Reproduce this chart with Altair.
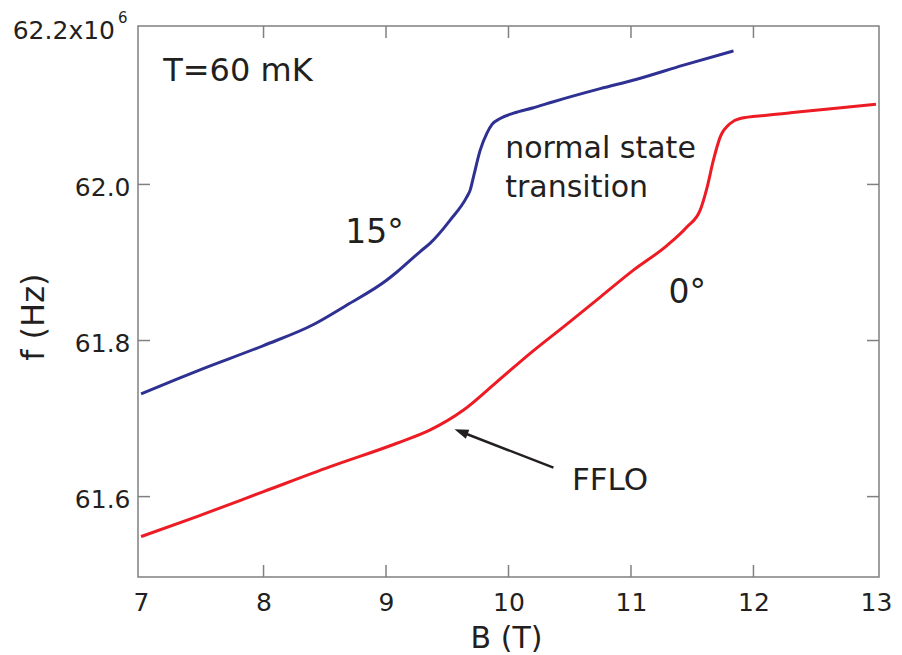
import altair as alt
import pandas as pd

FONT = "DejaVu Sans"
INK = "#231F20"
FRAME = "#808080"
BLUE = "#2E3192"
RED = "#ED1C24"

# axis tick positions
X_TICKS = [7, 8, 9, 10, 11, 12, 13]
Y_TICKS = [61.6, 61.8, 62.0]

# resonance frequency vs field, 15 degree orientation
B_15 = [7.0, 7.238, 7.456, 8.0, 8.408, 8.681, 9.007, 9.089, 9.279, 9.361,
        9.524, 9.660, 9.687, 9.714, 9.769, 9.824, 9.867, 9.932, 10.041,
        10.204, 10.367, 10.749, 11.048, 11.429, 11.837]
F_15 = [61.7315, 61.7469, 61.7609, 61.7936, 61.8205, 61.8455, 61.8775,
        61.8878, 61.9140, 61.9248, 61.9543, 61.9841, 61.9927, 62.0097,
        62.0439, 62.0657, 62.0772, 62.0845, 62.0913, 62.0983, 62.1060,
        62.1227, 62.1348, 62.1528, 62.1711]

# resonance frequency vs field, 0 degree orientation
B_0 = [7.0, 7.456, 8.0, 8.545, 9.089, 9.361, 9.633, 9.905, 10.177, 10.477,
       10.749, 11.020, 11.293, 11.456, 11.565, 11.620, 11.673, 11.728,
       11.810, 11.891, 12.109, 12.381, 12.653, 13.0]
F_0 = [61.5488, 61.5744, 61.6064, 61.6384, 61.6684, 61.6854, 61.7109,
       61.7470, 61.7836, 61.8211, 61.8557, 61.8902, 61.9216, 61.9455,
       61.9671, 61.9953, 62.0311, 62.0606, 62.0781, 62.0845, 62.0887,
       62.0930, 62.0973, 62.1028]

SERIES = ["15\u00b0", "0\u00b0"]

# FFLO arrow: tail near the label, tip at the 0 degree curve
ARROW_TAIL = (10.367, 61.6371)
ARROW_TIP = (9.559, 61.6863)

curves = pd.concat([
    pd.DataFrame({"B": B_15, "f": F_15, "angle": SERIES[0]}),
    pd.DataFrame({"B": B_0, "f": F_0, "angle": SERIES[1]}),
], ignore_index=True)

x_scale = alt.Scale(domain=[6.975, 13.025], nice=False, zero=False)
y_scale = alt.Scale(domain=[61.497, 62.203], nice=False, zero=False)

X = alt.X("B:Q", scale=x_scale)
Y = alt.Y("f:Q", scale=y_scale)

lines = alt.Chart(curves).mark_line(strokeWidth=3, interpolate="monotone").encode(
    x=alt.X("B:Q", scale=x_scale,
            axis=alt.Axis(values=X_TICKS, format="d", title="B (T)",
                          labelPadding=33, labelBaseline="alphabetic",
                          titleX=368, titleY=70, titleFontSize=30,
                          titleBaseline="alphabetic")),
    y=alt.Y("f:Q", scale=y_scale,
            axis=alt.Axis(values=Y_TICKS, format=".1f", title="f (Hz)",
                          labelPadding=8, labelBaseline="alphabetic",
                          labelOffset=10.7, titleX=-94.7, titleY=290.7,
                          titleAlign="center", titleBaseline="alphabetic")),
    color=alt.Color("angle:N", scale=alt.Scale(domain=SERIES, range=[BLUE, RED]),
                    legend=None),
)

# inward ticks on all four sides of the frame
xt = pd.DataFrame({"B": X_TICKS[1:-1]})
yt = pd.DataFrame({"f": Y_TICKS})
tick_style = dict(color=FRAME, strokeWidth=1.5)
bottom_ticks = alt.Chart(xt).mark_rule(**tick_style).encode(
    x=X, y=alt.value(551), y2=alt.value(539))
top_ticks = alt.Chart(xt).mark_rule(**tick_style).encode(
    x=X, y=alt.value(0), y2=alt.value(12))
left_ticks = alt.Chart(yt).mark_rule(**tick_style).encode(
    y=Y, x=alt.value(0), x2=alt.value(12))
right_ticks = alt.Chart(yt).mark_rule(**tick_style).encode(
    y=Y, x=alt.value(741), x2=alt.value(729))

# top tick label with its exponent
top_label = alt.Chart(pd.DataFrame({"f": [62.2]})).mark_text(
    text="62.2x10", font=FONT, fontSize=25, color=INK, align="right",
    baseline="alphabetic", dy=11).encode(x=alt.value(-23), y=Y)
exponent = alt.Chart(pd.DataFrame({"f": [62.2]})).mark_text(
    text="6", font=FONT, fontSize=15, color=INK, align="left",
    baseline="alphabetic", dy=-5).encode(x=alt.value(-20), y=Y)


def label(text, b, f, size):
    return alt.Chart(pd.DataFrame({"B": [b], "f": [f], "t": [text]})).mark_text(
        font=FONT, fontSize=size, color=INK, align="left", baseline="alphabetic"
    ).encode(x=X, y=Y, text="t:N")


labels = [
    label("T=60 mK", 7.181, 62.1323, 32),
    label(SERIES[0], 8.667, 61.9245, 33),
    label(SERIES[1], 11.306, 61.848, 33),
    label("normal state", 9.973, 62.0333, 30),
    label("transition", 9.973, 61.9834, 30),
    label("FFLO", 10.518, 61.6086, 31),
]

# arrow shaft stops short of the tip so the head stays sharp
frac = 0.09
shaft_end = (ARROW_TIP[0] + frac * (ARROW_TAIL[0] - ARROW_TIP[0]),
             ARROW_TIP[1] + frac * (ARROW_TAIL[1] - ARROW_TIP[1]))
shaft = alt.Chart(pd.DataFrame({
    "B": [ARROW_TAIL[0]], "f": [ARROW_TAIL[1]],
    "B2": [shaft_end[0]], "f2": [shaft_end[1]]})).mark_rule(
    color=INK, strokeWidth=2.5).encode(x=X, y=Y, x2="B2:Q", y2="f2:Q")
head = alt.Chart(pd.DataFrame({"B": [ARROW_TIP[0]], "f": [ARROW_TIP[1]]})).mark_point(
    shape="M0,0L-0.45,1.3L0.45,1.3Z", filled=True, opacity=1, color=INK,
    size=465, angle=291, strokeWidth=0).encode(x=X, y=Y)

chart = alt.layer(
    lines, bottom_ticks, top_ticks, left_ticks, right_ticks,
    top_label, exponent, *labels, shaft, head,
).properties(
    width=741, height=551,
    autosize=alt.AutoSizeParams(type="none"),
    padding={"left": 138, "top": 26, "right": 23, "bottom": 78},
    background="white",
).configure_view(
    stroke=FRAME, strokeWidth=1.5,
).configure_axis(
    labelFont=FONT, titleFont=FONT, labelFontSize=25, titleFontSize=32,
    labelColor=INK, titleColor=INK, titleFontWeight="normal",
    domain=False, ticks=False, grid=False, labelFlush=False,
)

chart.save("out.html", embed_options={"renderer": "svg", "actions": False})
